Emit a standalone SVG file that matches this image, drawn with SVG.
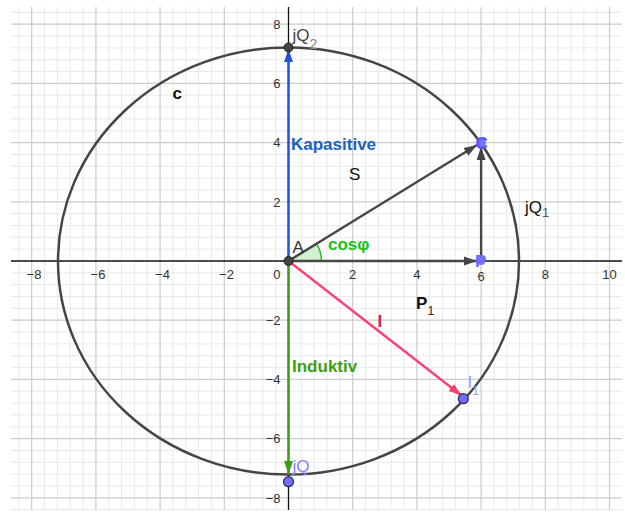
<svg xmlns="http://www.w3.org/2000/svg" width="625" height="513" viewBox="0 0 625 513">
<style>
.minor{stroke:#e9e9e9;stroke-width:1;fill:none}
.major{stroke:#cccccc;stroke-width:1.2;fill:none}
.axis{stroke:#111;stroke-width:1.3;fill:none}
.tick{font-family:"Liberation Sans",Arial,sans-serif;font-size:13px;fill:#333}
.tx{text-anchor:middle}
.ty{text-anchor:end}
.lbl{font-family:"Liberation Sans",Arial,sans-serif;font-size:17px}
.b{font-weight:bold}
.vec{stroke-width:2.4;fill:none}
.dark{fill:#444;stroke:#222;stroke-width:1}
.blue{fill:#7070f6;stroke:#2a2a55;stroke-width:1.2}
</style>
<defs>
<marker id="ag" viewBox="0 -5 13 10" refX="13" refY="0" markerWidth="13" markerHeight="10" markerUnits="userSpaceOnUse" orient="auto"><path d="M0,-4.5 L13,0 L0,4.5 z" fill="#444"/></marker>
<marker id="ab" viewBox="0 -5 13 10" refX="13" refY="0" markerWidth="13" markerHeight="10" markerUnits="userSpaceOnUse" orient="auto"><path d="M0,-4.5 L13,0 L0,4.5 z" fill="#1f55d8"/></marker>
<marker id="agr" viewBox="0 -5 13 10" refX="13" refY="0" markerWidth="13" markerHeight="10" markerUnits="userSpaceOnUse" orient="auto"><path d="M0,-4.5 L13,0 L0,4.5 z" fill="#3d9a14"/></marker>
<marker id="ar" viewBox="0 -5 13 10" refX="13" refY="0" markerWidth="13" markerHeight="10" markerUnits="userSpaceOnUse" orient="auto"><path d="M0,-4.5 L13,0 L0,4.5 z" fill="#ff4070"/></marker>
</defs>
<rect width="625" height="513" fill="#fff"/>
<g id="grid">
<path class="minor" d="M18.86 7V510M44.54 7V510M57.38 7V510M70.22 7V510M83.06 7V510M108.74 7V510M121.58 7V510M134.42 7V510M147.26 7V510M172.94 7V510M185.78 7V510M198.62 7V510M211.46 7V510M237.14 7V510M249.98 7V510M262.82 7V510M275.66 7V510M301.34 7V510M314.18 7V510M327.02 7V510M339.86 7V510M365.54 7V510M378.38 7V510M391.22 7V510M404.06 7V510M429.74 7V510M442.58 7V510M455.42 7V510M468.26 7V510M493.94 7V510M506.78 7V510M519.62 7V510M532.46 7V510M558.14 7V510M570.98 7V510M583.82 7V510M596.66 7V510
M11 12.36H622M11 36.04H622M11 47.88H622M11 59.72H622M11 71.56H622M11 95.24H622M11 107.08H622M11 118.92H622M11 130.76H622M11 154.44H622M11 166.28H622M11 178.12H622M11 189.96H622M11 213.64H622M11 225.48H622M11 237.32H622M11 249.16H622M11 272.84H622M11 284.68H622M11 296.52H622M11 308.36H622M11 332.04H622M11 343.88H622M11 355.72H622M11 367.56H622M11 391.24H622M11 403.08H622M11 414.92H622M11 426.76H622M11 450.44H622M11 462.28H622M11 474.12H622M11 485.96H622M11 509.64H622"/>
<path class="major" d="M31.7 7V510M95.9 7V510M160.1 7V510M224.3 7V510M352.7 7V510M416.9 7V510M481.1 7V510M545.3 7V510M609.5 7V510
M11 24.2H622M11 83.4H622M11 142.6H622M11 201.8H622M11 320.2H622M11 379.4H622M11 438.6H622M11 497.8H622"/>
<path class="axis" d="M11 261H622M288.5 7V510"/>
<g class="tick tx">
<text x="34" y="279">−8</text><text x="98" y="279">−6</text><text x="162.5" y="279">−4</text><text x="226.5" y="279">−2</text>
<text x="352.7" y="279">2</text><text x="416.9" y="279">4</text><text x="481.1" y="281">6</text><text x="545.3" y="279">8</text><text x="609.5" y="279">10</text>
</g>
<g class="tick ty">
<text x="280.5" y="278.5">0</text>
<text x="280.5" y="29">8</text><text x="280.5" y="88.2">6</text><text x="280.5" y="147.4">4</text><text x="280.5" y="206.6">2</text>
<text x="280.5" y="325">−2</text><text x="280.5" y="384.2">−4</text><text x="280.5" y="443.4">−6</text><text x="280.5" y="502.6">−8</text>
</g>
</g>
<g id="circle-c">
<ellipse cx="288.5" cy="261" rx="230.5" ry="213.6" fill="none" stroke="#454545" stroke-width="2.5"/>
<text class="lbl b" x="172.5" y="99" fill="#111">c</text>
</g>
<g id="angle">
<path d="M288.5 261 L321.5 261 A33 33 0 0 0 316.6 243.7 Z" fill="#c9efc9" fill-opacity="0.85" stroke="#2fbf2f" stroke-width="1.6"/>
<text class="lbl b" x="328" y="250" fill="#16c416" font-size="16">cosφ</text>
</g>
<g id="connectors">
<line class="vec" x1="288.5" y1="261" x2="288.5" y2="49" stroke="#1f55d8" marker-end="url(#ab)"/>
<line class="vec" x1="288.5" y1="261" x2="288.5" y2="474" stroke="#3d9a14" marker-end="url(#agr)"/>
<line class="vec" x1="288.5" y1="261" x2="461.5" y2="395.5" stroke="#ff4070" marker-end="url(#ar)"/>
<line class="vec" x1="288.5" y1="261" x2="477" y2="145" stroke="#474747" marker-end="url(#ag)"/>
<line class="vec" x1="288.5" y1="261" x2="477" y2="261" stroke="#474747" marker-end="url(#ag)"/>
<line class="vec" x1="481.1" y1="261" x2="481.1" y2="147" stroke="#474747" marker-end="url(#ag)"/>
<text class="lbl b" x="291" y="150" fill="#1a62c4">Kapasitive</text>
<text class="lbl b" x="292" y="372" fill="#3f9f10">Induktiv</text>
<text class="lbl" x="349" y="180" fill="#111">S</text>
<text class="lbl" x="525" y="213" fill="#111">jQ<tspan font-size="13" dy="4" fill="#555">1</tspan></text>
<text class="lbl b" x="416" y="308.5" fill="#111">P<tspan font-weight="normal" font-size="13" dy="6" fill="#333">1</tspan></text>
<text class="lbl b" x="377.5" y="327" fill="#e8174f" font-size="16">I</text>
</g>
<g id="node-A">
<circle class="dark" cx="288.5" cy="261" r="4.5"/>
<text class="lbl" x="292.5" y="252.5" fill="#333" font-size="14">A</text>
</g>
<g id="node-jQ2">
<circle class="dark" cx="288.5" cy="47.5" r="4.5"/>
<text class="lbl" x="292.5" y="41" fill="#444">jQ<tspan font-size="14" dy="8" fill="#888">2</tspan></text>
</g>
<g id="node-C">
<circle cx="481.5" cy="142.6" r="4.5" fill="#7575ff"/>
<text class="lbl b" x="475.5" y="148.5" fill="#5555ff" font-size="16">C</text>
</g>
<g id="node-P">
<circle cx="481.1" cy="261" r="4" fill="#7575ff"/>
<text class="lbl b" x="475" y="266.5" fill="#6b6bff" font-size="14">P</text>
</g>
<g id="node-I1">
<circle class="blue" cx="463.3" cy="398.7" r="5"/>
<text class="lbl" x="467.5" y="388" fill="#9a9aff" font-size="15">I<tspan font-size="12" dy="7">1</tspan></text>
</g>
<g id="node-jQ">
<circle class="blue" cx="288.5" cy="481.7" r="5"/>
<text class="lbl" x="292.5" y="471.5" fill="#7f7fff">jQ</text>
</g>
</svg>
